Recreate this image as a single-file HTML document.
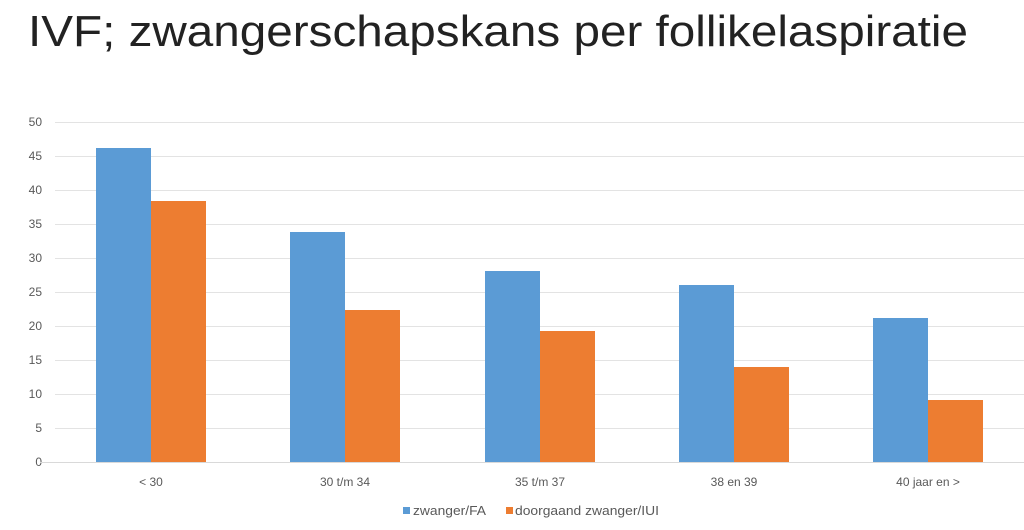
<!DOCTYPE html>
<html><head><meta charset="utf-8"><style>
html,body{margin:0;padding:0;background:#fff;}
svg{display:block;font-family:"Liberation Sans",sans-serif;}
</style></head><body>
<svg width="1024" height="530" viewBox="0 0 1024 530">
<rect width="1024" height="530" fill="#fff"/>
<text x="28" y="46" font-size="44" fill="#222" textLength="940" lengthAdjust="spacingAndGlyphs">IVF; zwangerschapskans per follikelaspiratie</text>
<g stroke="#e3e3e3" stroke-width="1">
<line x1="55" x2="1024" y1="122.5" y2="122.5"/>
<line x1="55" x2="1024" y1="156.5" y2="156.5"/>
<line x1="55" x2="1024" y1="190.5" y2="190.5"/>
<line x1="55" x2="1024" y1="224.5" y2="224.5"/>
<line x1="55" x2="1024" y1="258.5" y2="258.5"/>
<line x1="55" x2="1024" y1="292.5" y2="292.5"/>
<line x1="55" x2="1024" y1="326.5" y2="326.5"/>
<line x1="55" x2="1024" y1="360.5" y2="360.5"/>
<line x1="55" x2="1024" y1="394.5" y2="394.5"/>
<line x1="55" x2="1024" y1="428.5" y2="428.5"/>
</g>
<g font-size="12" fill="#595959" text-anchor="end">
<text x="42" y="126">50</text><text x="42" y="160">45</text><text x="42" y="194">40</text>
<text x="42" y="228">35</text><text x="42" y="262">30</text><text x="42" y="296">25</text>
<text x="42" y="330">20</text><text x="42" y="364">15</text><text x="42" y="398">10</text>
<text x="42" y="432">5</text><text x="42" y="466">0</text>
</g>
<g fill="#5b9bd5">
<rect x="96" y="148" width="55" height="314"/>
<rect x="290" y="232" width="55" height="230"/>
<rect x="485" y="271" width="55" height="191"/>
<rect x="679" y="285" width="55" height="177"/>
<rect x="873" y="318" width="55" height="144"/>
</g>
<g fill="#ed7d31">
<rect x="151" y="201" width="55" height="261"/>
<rect x="345" y="310" width="55" height="152"/>
<rect x="540" y="331" width="55" height="131"/>
<rect x="734" y="367" width="55" height="95"/>
<rect x="928" y="400" width="55" height="62"/>
</g>
<line x1="40" x2="1024" y1="462.5" y2="462.5" stroke="#d9d9d9"/>
<g font-size="12" fill="#595959" text-anchor="middle">
<text x="151" y="486">&lt; 30</text>
<text x="345" y="486">30 t/m 34</text>
<text x="540" y="486">35 t/m 37</text>
<text x="734" y="486">38 en 39</text>
<text x="928" y="486">40 jaar en &gt;</text>
</g>
<rect x="403" y="507" width="7" height="7" fill="#5b9bd5"/>
<text x="413" y="515" font-size="13" fill="#595959" textLength="73" lengthAdjust="spacingAndGlyphs">zwanger/FA</text>
<rect x="506" y="507" width="7" height="7" fill="#ed7d31"/>
<text x="515" y="515" font-size="13" fill="#595959" textLength="144" lengthAdjust="spacingAndGlyphs">doorgaand zwanger/IUI</text>
</svg>
</body></html>
